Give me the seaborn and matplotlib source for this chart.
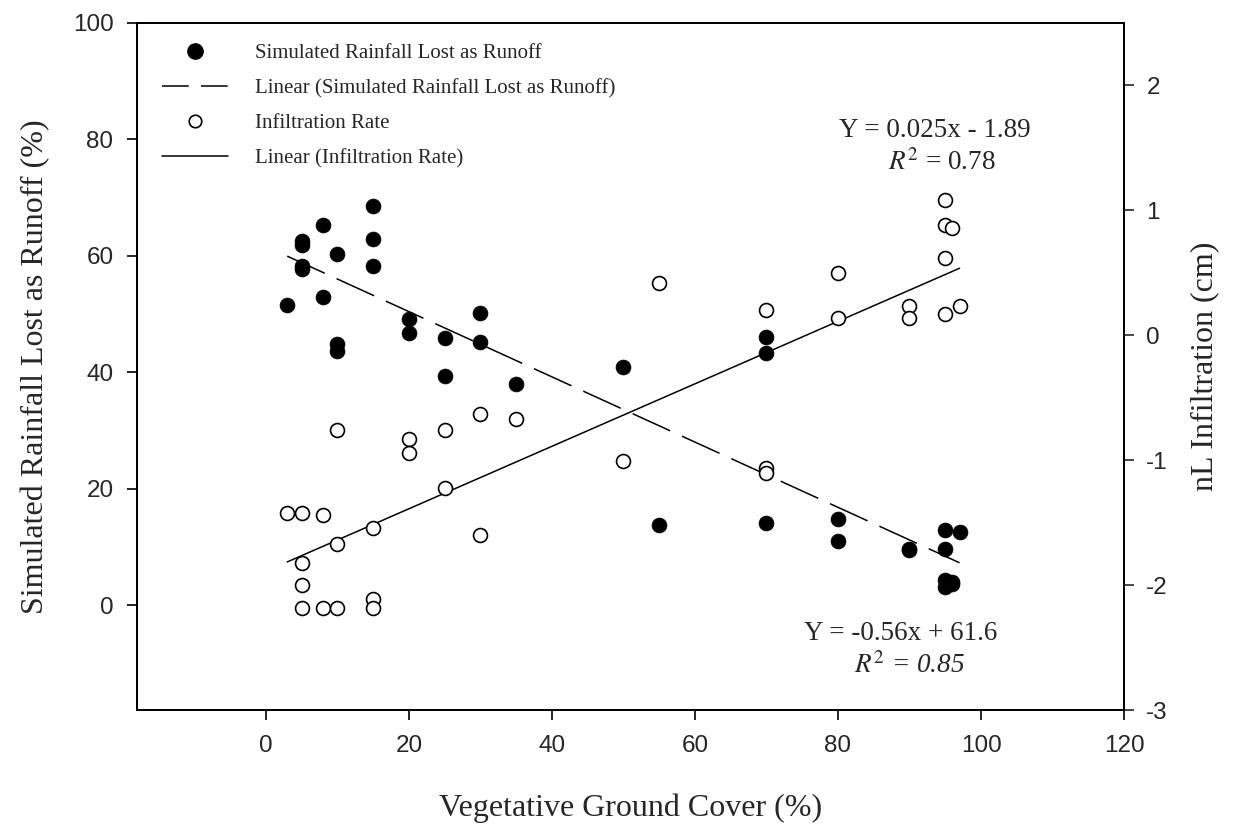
import matplotlib
matplotlib.use("Agg")
import matplotlib.pyplot as plt
import seaborn as sns
import numpy as np
import pandas as pd
from matplotlib.lines import Line2D

# ---------------- data ----------------
runoff_cover = [3, 5, 5, 5, 5, 8, 8, 10, 10, 10, 15, 15, 15, 20, 20, 25, 25, 30, 30, 35,
                50, 55, 70, 70, 70, 80, 80, 90, 90, 95, 95, 95, 95, 96, 96, 97]
runoff_pct = [51.6, 62.5, 61.8, 58.3, 57.7, 65.2, 52.9, 60.3, 44.9, 43.7, 68.5, 62.8, 58.3,
              49.1, 46.7, 45.9, 39.3, 50.2, 45.2, 38.0, 40.9, 13.7, 46.0, 43.3, 14.1, 14.8,
              11.1, 9.7, 9.4, 12.9, 9.6, 4.4, 3.2, 3.9, 3.6, 12.5]

infil_cover = [3, 5, 5, 5, 5, 8, 8, 10, 10, 10, 15, 15, 15, 20, 20, 25, 25, 30, 30, 35,
               50, 55, 70, 70, 70, 80, 80, 90, 90, 95, 95, 95, 95, 96, 97]
infil_ln = [-1.42, -1.42, -1.82, -2.00, -2.18, -1.44, -2.18, -0.76, -1.67, -2.18, -1.54,
            -2.11, -2.18, -0.83, -0.94, -0.76, -1.22, -0.63, -1.60, -0.67, -1.01, 0.42,
            0.20, -1.06, -1.10, 0.50, 0.14, 0.23, 0.14, 1.08, 0.88, 0.62, 0.17, 0.86, 0.23]

runoff_fit = [-0.56, 61.6]   # slope, intercept
infil_fit = [0.025, -1.89]   # slope, intercept

x_ticks = [0, 20, 40, 60, 80, 100, 120]
left_ticks = [0, 20, 40, 60, 80, 100]
right_ticks = [-3, -2, -1, 0, 1, 2]

legend_labels = ["Simulated Rainfall Lost as Runoff",
                 "Linear (Simulated Rainfall Lost as Runoff)",
                 "Infiltration Rate",
                 "Linear (Infiltration Rate)"]

# ---------------- style ----------------
sns.set_style("ticks")
plt.rcParams["font.family"] = ["Liberation Sans", "DejaVu Sans"]
plt.rcParams["axes.unicode_minus"] = False
plt.rcParams["mathtext.fontset"] = "stix"

SERIF = ["Liberation Serif", "DejaVu Serif"]

fig = plt.figure(figsize=(12.4, 8.24), dpi=100)
fig.subplots_adjust(left=0.1105, right=0.9065, top=0.9725, bottom=0.1383)
ax = fig.add_subplot(111)
ax2 = ax.twinx()

df_r = pd.DataFrame({"cover": runoff_cover, "val": runoff_pct})
df_i = pd.DataFrame({"cover": infil_cover, "val": infil_ln})

fx_r = np.array([min(runoff_cover), max(runoff_cover)], dtype=float)
fx_i = np.array([min(infil_cover), max(infil_cover)], dtype=float)
fit_r = pd.DataFrame({"cover": fx_r, "val": runoff_fit[0] * fx_r + runoff_fit[1]})
fit_i = pd.DataFrame({"cover": fx_i, "val": infil_fit[0] * fx_i + infil_fit[1]})

sns.lineplot(data=fit_r, x="cover", y="val", ax=ax, color="black", linewidth=1.1,
             linestyle=(0, (27, 8.5)), zorder=2)
sns.scatterplot(data=df_r, x="cover", y="val", ax=ax, color="black", s=115,
                edgecolor="black", linewidth=0.5, zorder=3)

sns.lineplot(data=fit_i, x="cover", y="val", ax=ax2, color="black", linewidth=1.1, zorder=2)
sns.scatterplot(data=df_i, x="cover", y="val", ax=ax2, color="white", s=100,
                edgecolor="black", linewidth=1.2, zorder=3)

ax.set_xlim(-18, 120)
ax.set_ylim(-18, 100)
ax2.set_ylim(-3, 2.5)
ax.set_xticks(x_ticks)
ax.set_yticks(left_ticks)
ax2.set_yticks(right_ticks)

for a in (ax, ax2):
    for sp in a.spines.values():
        sp.set_visible(True)
        sp.set_linewidth(1.3)
        sp.set_color("black")
ax.tick_params(axis="both", direction="out", length=7, width=1.2, labelsize=17.5, color="black")
ax.tick_params(axis="x", pad=11)
ax.tick_params(axis="y", pad=10, right=False)
ax2.tick_params(axis="y", direction="out", length=7, width=1.2, labelsize=17.5, pad=9,
                left=False, right=True)

ax.set_xlabel("Vegetative Ground Cover (%)", family=SERIF, fontsize=23, labelpad=26)
ax.set_ylabel("Simulated Rainfall Lost as Runoff (%)", family=SERIF, fontsize=23, labelpad=16)
ax2.set_ylabel("nL Infiltration (cm)", family=SERIF, fontsize=23, labelpad=16, rotation=90)

# equations
ax.text(93.6, 81.5, "Y = 0.025x - 1.89", family=SERIF, fontsize=19.5, ha="center", va="center")
ax.text(94.6, 76.0, r"$\mathit{R}^{2}$ = 0.78", family=SERIF, fontsize=19.5, ha="center",
        va="center")
ax.text(88.8, -4.9, "Y = -0.56x + 61.6", family=SERIF, fontsize=19.5, ha="center", va="center")
ax.text(90.0, -10.3, r"$\mathit{R}^{2}$ = 0.85", family=SERIF, fontsize=19.5, ha="center",
        va="center", style="italic")

handles = [
    Line2D([], [], linestyle="none", marker="o", markersize=11, markerfacecolor="black",
           markeredgecolor="black"),
    Line2D([], [], color="black", linewidth=1.1, linestyle=(0, (17.5, 8))),
    Line2D([], [], linestyle="none", marker="o", markersize=9, markerfacecolor="white",
           markeredgecolor="black", markeredgewidth=1.2),
    Line2D([], [], color="black", linewidth=1.1),
]
leg = ax2.legend(handles, legend_labels, loc="upper left", bbox_to_anchor=(0.025, 0.970),
                 frameon=False, borderaxespad=0, borderpad=0, handlelength=3.2,
                 handletextpad=1.3, labelspacing=0.75,
                 prop={"family": SERIF, "size": 15})

ax.set_zorder(ax2.get_zorder() - 1)
ax2.patch.set_visible(False)

fig.savefig("out.png", dpi=100)
